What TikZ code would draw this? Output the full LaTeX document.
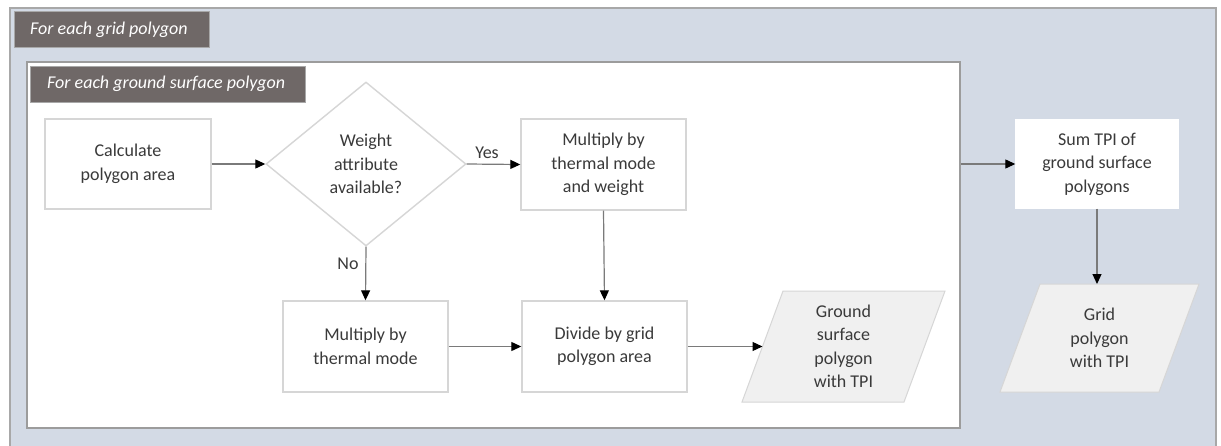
\documentclass[tikz,border=0pt]{standalone}
\usepackage{fontspec}
\setmainfont{Carlito}
\usetikzlibrary{shapes.geometric,arrows.meta}

\definecolor{panelblue}{HTML}{D3DAE5}
\definecolor{panelborder}{HTML}{A8A8A8}
\definecolor{tagfill}{HTML}{6F6867}
\definecolor{frameborder}{HTML}{9C9C9C}
\definecolor{boxborder}{HTML}{D6D6D6}
\definecolor{ink}{HTML}{3A3A3A}
\definecolor{datafill}{HTML}{F0F0F0}
\definecolor{wire}{HTML}{7A7A7A}

\tikzset{
  basefont/.style={font=\fontsize{18}{23.5}\selectfont, text=ink},
  procbox/.style={basefont, draw=boxborder, line width=1.4pt, fill=white,
    rectangle, align=center, inner sep=0pt},
  decision/.style={basefont, draw=boxborder, line width=1.4pt, fill=white,
    diamond, align=center, inner sep=0pt, minimum width=200pt, minimum height=164pt},
  datashape/.style={draw=boxborder, line width=1pt, fill=datafill},
  datatext/.style={basefont, align=center, inner sep=0pt},
  tag/.style={fill=tagfill, draw=panelborder, line width=0.6pt, rectangle, inner sep=0pt},
  tagtext/.style={font=\fontsize{18}{22}\itshape, text=white, anchor=west, inner sep=0pt},
  flow/.style={draw=wire, line width=1.2pt, -{Triangle[length=10pt,width=9pt,color=black]}},
  flowlabel/.style={basefont, inner sep=0pt}
}

\begin{document}
\begin{tikzpicture}[x=1pt, y=-1pt]
  \clip (0,0) rectangle (1221,445);
  \fill[white] (0,0) rectangle (1221,445);

  % outer loop panel (runs past the lower edge)
  \node[draw=panelborder, line width=2pt, fill=panelblue, rectangle, inner sep=0pt,
        minimum width=1206pt, minimum height=450pt] (outer) at (613,233) {};
  \node[tag, minimum width=195pt, minimum height=36pt] (outertag) at (111.5,29.5) {};
  \node[tagtext] (outertext) at (30,29.5) {For each grid polygon};

  % inner loop panel
  \node[draw=frameborder, line width=2.2pt, fill=white, rectangle, inner sep=0pt,
        minimum width=933pt, minimum height=366pt] (inner) at (493.5,245) {};
  \node[tag, minimum width=275pt, minimum height=36pt] (innertag) at (167.5,84) {};
  \node[tagtext] (innertext) at (47,84) {For each ground surface polygon};

  % steps inside the inner loop
  \node[procbox, minimum width=166pt, minimum height=90pt] (calc) at (128,164)
    {Calculate\\polygon area};
  \node[decision] (weight) at (366,164) {Weight\\attribute\\available?};
  \node[procbox, minimum width=165pt, minimum height=91pt] (mulw) at (603.5,164.5)
    {Multiply by\\thermal mode\\and weight};
  \node[procbox, minimum width=165pt, minimum height=91pt] (mult) at (365.5,346.5)
    {Multiply by\\thermal mode};
  \node[procbox, minimum width=165pt, minimum height=91pt] (divide) at (604.5,346.5)
    {Divide by grid\\polygon area};

  % output record of the inner loop
  \draw[datashape] (742,402) -- (783,291) -- (945,291) -- (904,402) -- cycle;
  \coordinate (groundin) at (762.5,346.5);
  \node[datatext] (ground) at (843.5,346.5) {Ground\\surface\\polygon\\with TPI};

  % steps in the outer loop
  \node[procbox, draw=white, minimum width=162pt, minimum height=88pt] (sum) at (1097,164)
    {Sum TPI of\\ground surface\\polygons};
  \draw[datashape] (1000,392) -- (1040,284) -- (1199,284) -- (1159,392) -- cycle;
  \coordinate (gridin) at (1097,284);
  \node[datatext] (grid) at (1099.5,338) {Grid\\polygon\\with TPI};

  % connectors
  \draw[flow] (calc.east) -- (weight.west);
  \draw[flow] (weight.east) -- (mulw.west);
  \draw[flow] (weight.south) -- (mult.north);
  \draw[flow] (mulw.south) -- (divide.north);
  \draw[flow] (mult.east) -- (divide.east -| divide.west);
  \draw[flow] (divide.east) -- (groundin);
  \draw[flow] (inner.east |- sum.west) -- (sum.west);
  \draw[flow] (sum.south) -- (gridin);

  % branch labels
  \node[flowlabel] (yes) at (487,153) {Yes};
  \node[flowlabel] (no) at (348,264) {No};
\end{tikzpicture}
\end{document}
